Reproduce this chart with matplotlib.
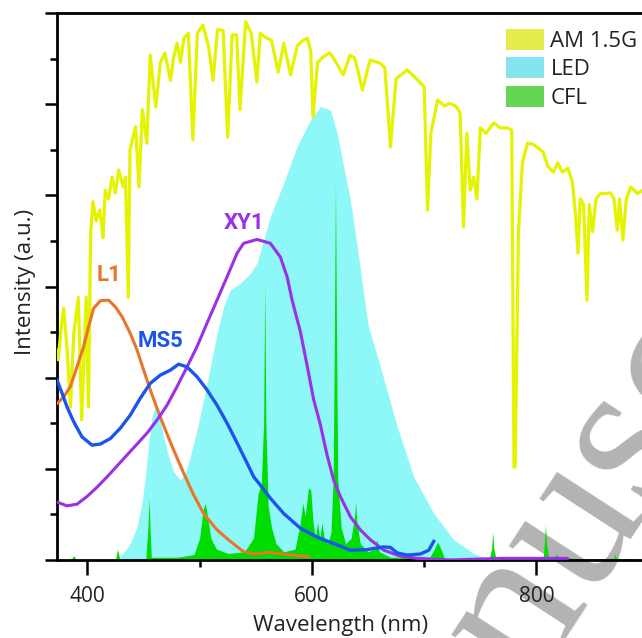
import matplotlib
matplotlib.use("Agg")
import matplotlib.pyplot as plt
from matplotlib.patches import Patch

plt.rcParams['font.family'] = ['Open Sans', 'DejaVu Sans']

# AM 1.5G solar spectrum (normalised)
am_wl = [371.5, 374, 377, 379, 382, 385, 388, 392, 395, 399, 401, 403, 405, 408, 411,
         413, 414, 416, 419, 422, 425, 428, 432, 434, 436.5, 438, 443, 446, 449, 453,
         456, 461, 465, 469, 474, 477, 480, 483, 486, 490, 494, 498, 503, 508, 512,
         516, 521, 525, 529, 533, 536, 541, 546, 551, 554, 559, 564, 570, 575, 581,
         587, 592, 596, 599, 601, 605, 610, 616, 620, 628, 634, 638, 641, 645, 650,
         652, 661, 665, 670, 675, 685, 693, 700, 703, 706, 712, 718, 722, 728, 732,
         735, 738, 741, 744, 747, 750, 755, 762, 768, 774, 778, 780, 781, 784, 787.5,
         792, 797, 806, 810, 815, 819, 823, 828, 832, 835, 837, 839, 842, 845, 847,
         850, 853, 857, 862, 866, 869, 872, 874, 877, 880, 884, 890, 894]
am_int = [0.39, 0.366, 0.43, 0.46, 0.384, 0.28, 0.415, 0.48, 0.256, 0.48, 0.28, 0.598, 0.655, 0.62, 0.64,
          0.609, 0.589, 0.676, 0.66, 0.70, 0.671, 0.713, 0.682, 0.70, 0.48, 0.75, 0.792, 0.682, 0.823, 0.762,
          0.923, 0.828, 0.909, 0.927, 0.877, 0.92, 0.945, 0.91, 0.954, 0.963, 0.768, 0.963, 0.978, 0.938, 0.877,
          0.97, 0.968, 0.773, 0.96, 0.96, 0.823, 0.984, 0.963, 0.874, 0.963, 0.955, 0.95, 0.892, 0.945, 0.887,
          0.94, 0.95, 0.954, 0.93, 0.81, 0.909, 0.92, 0.927, 0.915, 0.887, 0.923, 0.918, 0.895, 0.859, 0.90,
          0.914, 0.908, 0.90, 0.755, 0.88, 0.896, 0.88, 0.865, 0.64, 0.78, 0.841, 0.83, 0.835, 0.83, 0.818,
          0.609, 0.78, 0.676, 0.70, 0.66, 0.79, 0.78, 0.799, 0.79, 0.79, 0.786, 0.17, 0.17, 0.60, 0.726,
          0.762, 0.76, 0.746, 0.72, 0.709, 0.726, 0.709, 0.716, 0.691, 0.627, 0.561, 0.66, 0.65, 0.475, 0.65,
          0.60, 0.66, 0.67, 0.67, 0.671, 0.66, 0.603, 0.66, 0.585, 0.66, 0.682, 0.67, 0.675]

# LED emission
led_wl = [373, 425, 429.4, 438.3, 444.3, 448.7, 451.7, 454.6, 457.6, 460.6, 463.5, 468, 472.4, 476.9, 482.9,
          487.3, 491.8, 497.7, 503.6, 509.6, 515.5, 521.4, 527.4, 536.3, 545.2, 551.2, 563, 574.9, 586.8, 598.7,
          607.6, 616.5, 622.5, 628.3, 634.3, 640.3, 646.1, 650, 661, 675.9, 690.7, 708.5, 726.3, 744.1, 756,
          770, 894]
led_int = [0, 0, 0.006, 0.030, 0.061, 0.104, 0.152, 0.213, 0.262, 0.280, 0.268, 0.225, 0.189, 0.161, 0.146,
           0.159, 0.189, 0.238, 0.293, 0.353, 0.414, 0.463, 0.494, 0.506, 0.524, 0.543, 0.628, 0.689, 0.756, 0.804,
           0.829, 0.823, 0.780, 0.719, 0.658, 0.573, 0.488, 0.43, 0.353, 0.244, 0.152, 0.085, 0.037, 0.012, 0.003,
           0, 0]

# CFL emission
cfl_wl = [373, 385, 388, 390, 425, 427, 429, 452, 454, 455, 456, 457, 480, 495, 500,
          503, 505, 507, 510, 515, 525, 540, 548, 552, 555, 557, 558, 559, 561, 564,
          568, 575, 585, 589, 592, 594, 597, 599, 601, 603, 605, 607, 609, 611, 614,
          617, 619, 620, 621, 622, 623, 626, 630, 635, 638, 639, 640, 643, 650, 656,
          658, 660, 670, 705, 709, 712, 715, 718, 758, 760, 761, 762, 764, 790, 806,
          807, 808, 809, 811, 813, 818, 820, 840, 869, 870, 871, 894]
cfl_int = [0, 0, 0.008, 0, 0, 0.02, 0, 0, 0.06, 0.113, 0.05, 0.005, 0.005, 0.01, 0.04,
           0.09, 0.104, 0.08, 0.04, 0.02, 0.012, 0.015, 0.04, 0.12, 0.14, 0.25, 0.508, 0.25, 0.10, 0.06,
           0.03, 0.015, 0.02, 0.06, 0.104, 0.08, 0.132, 0.128, 0.07, 0.04, 0.068, 0.04, 0.068, 0.04, 0.03,
           0.05, 0.15, 0.40, 0.689, 0.40, 0.15, 0.06, 0.03, 0.04, 0.08, 0.106, 0.07, 0.03, 0.015, 0.02,
           0.037, 0.015, 0.005, 0.005, 0.02, 0.033, 0.02, 0.003, 0.003, 0.02, 0.051, 0.02, 0.003, 0.002, 0.003,
           0.03, 0.064, 0.03, 0.003, 0.002, 0.01, 0.005, 0.002, 0.003, 0.012, 0.003, 0.002]

# absorption spectra of the dyes
l1_wl = [373, 378.9, 384.9, 390.8, 396.7, 401.2, 405.6, 411.6, 419, 424.9, 430.9, 438.3, 444.3, 450.2, 456.1,
         462.1, 469.5, 476.9, 485.8, 494.7, 503.6, 515.5, 527.4, 539.2, 548.2, 560.1, 574.9, 597.2]
l1_int = [0.286, 0.298, 0.317, 0.353, 0.390, 0.427, 0.460, 0.474, 0.475, 0.463, 0.445, 0.414, 0.384, 0.347, 0.311,
          0.277, 0.238, 0.201, 0.159, 0.119, 0.085, 0.055, 0.034, 0.015, 0.011, 0.014, 0.011, 0.006]

ms5_wl = [373, 377.5, 381.9, 387.8, 395.3, 404.2, 411.6, 420.5, 429.4, 438.3, 447.2, 456.1, 465, 473.9, 481.3,
          488.8, 497.7, 506.6, 515.5, 524.5, 533.4, 542.3, 548.2, 554.1, 563, 574.9, 589.8, 604.6, 619.4, 634.3,
          649.2, 664, 669.9, 675.9, 684.8, 696.7, 704.1, 708.5]
ms5_int = [0.329, 0.305, 0.280, 0.253, 0.225, 0.210, 0.212, 0.222, 0.241, 0.265, 0.296, 0.323, 0.338, 0.347, 0.358,
           0.353, 0.335, 0.311, 0.283, 0.250, 0.214, 0.177, 0.152, 0.137, 0.113, 0.085, 0.058, 0.042, 0.030, 0.018,
           0.019, 0.024, 0.023, 0.013, 0.009, 0.011, 0.018, 0.034]

xy1_wl = [371.5, 381.9, 390.8, 399.7, 408.6, 417.6, 426.5, 435.4, 444.3, 453.2, 462.1, 471, 479.9, 488.8, 497.7,
          506.6, 515.5, 524.5, 533.4, 539.2, 551.2, 563, 571.9, 577.9, 582.4, 589.8, 595.7, 601.6, 607.6, 613.5,
          619.4, 625.4, 634.3, 643.2, 652.1, 664, 678.8, 693.7, 723.4, 767.9, 827.4]
xy1_int = [0.107, 0.099, 0.102, 0.116, 0.133, 0.152, 0.172, 0.192, 0.212, 0.232, 0.256, 0.283, 0.317, 0.353, 0.390,
           0.433, 0.475, 0.518, 0.561, 0.579, 0.586, 0.579, 0.554, 0.518, 0.475, 0.417, 0.356, 0.293, 0.247, 0.192,
           0.146, 0.116, 0.079, 0.055, 0.037, 0.018, 0.007, 0.003, 0.0, 0.003, 0.003]

labels = ['L1', 'MS5', 'XY1']
label_pos = [(419, 0.521), (465.5, 0.40), (540, 0.617)]
dye_colors = ['#e8752a', '#1c55ee', '#9b30e4']

fig = plt.figure(figsize=(6.42, 6.38), dpi=100)
fig.patch.set_facecolor('white')
ax = fig.add_axes([57 / 642, 78 / 638, 585 / 642, 547 / 638])
ax.set_facecolor('none')

# watermark behind the plot
fig.text(597 / 642, 1 - 488 / 638, 'Manuscript', rotation=57, rotation_mode='anchor',
         ha='center', va='center', fontsize=155, color='#b3b3b3',
         family='Liberation Serif', zorder=-1)

ax.fill_between(led_wl, led_int, color='#8ef7f8', lw=0, zorder=1)
ax.fill_between(cfl_wl, cfl_int, color='#00dd00', lw=0, zorder=2)
ax.plot(am_wl, am_int, color='#e4f400', lw=2.3, zorder=3)
ax.plot(l1_wl, l1_int, color=dye_colors[0], lw=2.2, zorder=4)
ax.plot(ms5_wl, ms5_int, color=dye_colors[1], lw=2.4, zorder=5)
ax.plot(xy1_wl, xy1_int, color=dye_colors[2], lw=2.2, zorder=4)

for lab, (lx, ly), c in zip(labels, label_pos, dye_colors):
    ax.text(lx, ly, lab, color=c, fontsize=16, fontweight='bold', family='Roboto',
            ha='center', va='center', zorder=6)

ax.set_xlim(373, 894)
ax.set_ylim(0, 1)
ax.set_xticks([400, 600, 800])
ax.set_xticks([500, 700], minor=True)
ax.set_yticks([i / 6 for i in range(7)])
ax.set_yticks([(2 * i + 1) / 12 for i in range(6)], minor=True)
ax.set_yticklabels([])
ax.tick_params(axis='both', which='major', direction='out', length=11, width=1.8,
               labelsize=15, pad=8, colors='black')
ax.tick_params(axis='both', which='minor', direction='out', length=5, width=1.8)
ax.tick_params(axis='y', which='major', length=9)
ax.tick_params(axis='x', labelcolor='#222222')

for s in ['left', 'bottom', 'top']:
    ax.spines[s].set_linewidth(2.0)
ax.spines['right'].set_visible(False)

ax.set_xlabel('Wavelength (nm)', fontsize=16, color='#222222')
ax.xaxis.set_label_coords((341 - 57) / 585, -0.1)
ax.set_ylabel('Intensity (a.u.)', fontsize=16, color='#222222')
ax.yaxis.set_label_coords(-0.036, 0.508)

handles = [Patch(facecolor='#e5ec4c', edgecolor='none', label='AM 1.5G'),
           Patch(facecolor='#86e4ee', edgecolor='none', label='LED'),
           Patch(facecolor='#66d455', edgecolor='none', label='CFL')]
fig.legend(handles=handles, loc='upper left', bbox_to_anchor=(506 / 642, 1 - 29 / 638),
           frameon=False, fontsize=16, handlelength=1.7, handleheight=1.05,
           handletextpad=0.3, labelspacing=0.25, borderpad=0, borderaxespad=0,
           labelcolor='#222222')

fig.savefig('out.png', dpi=100)
